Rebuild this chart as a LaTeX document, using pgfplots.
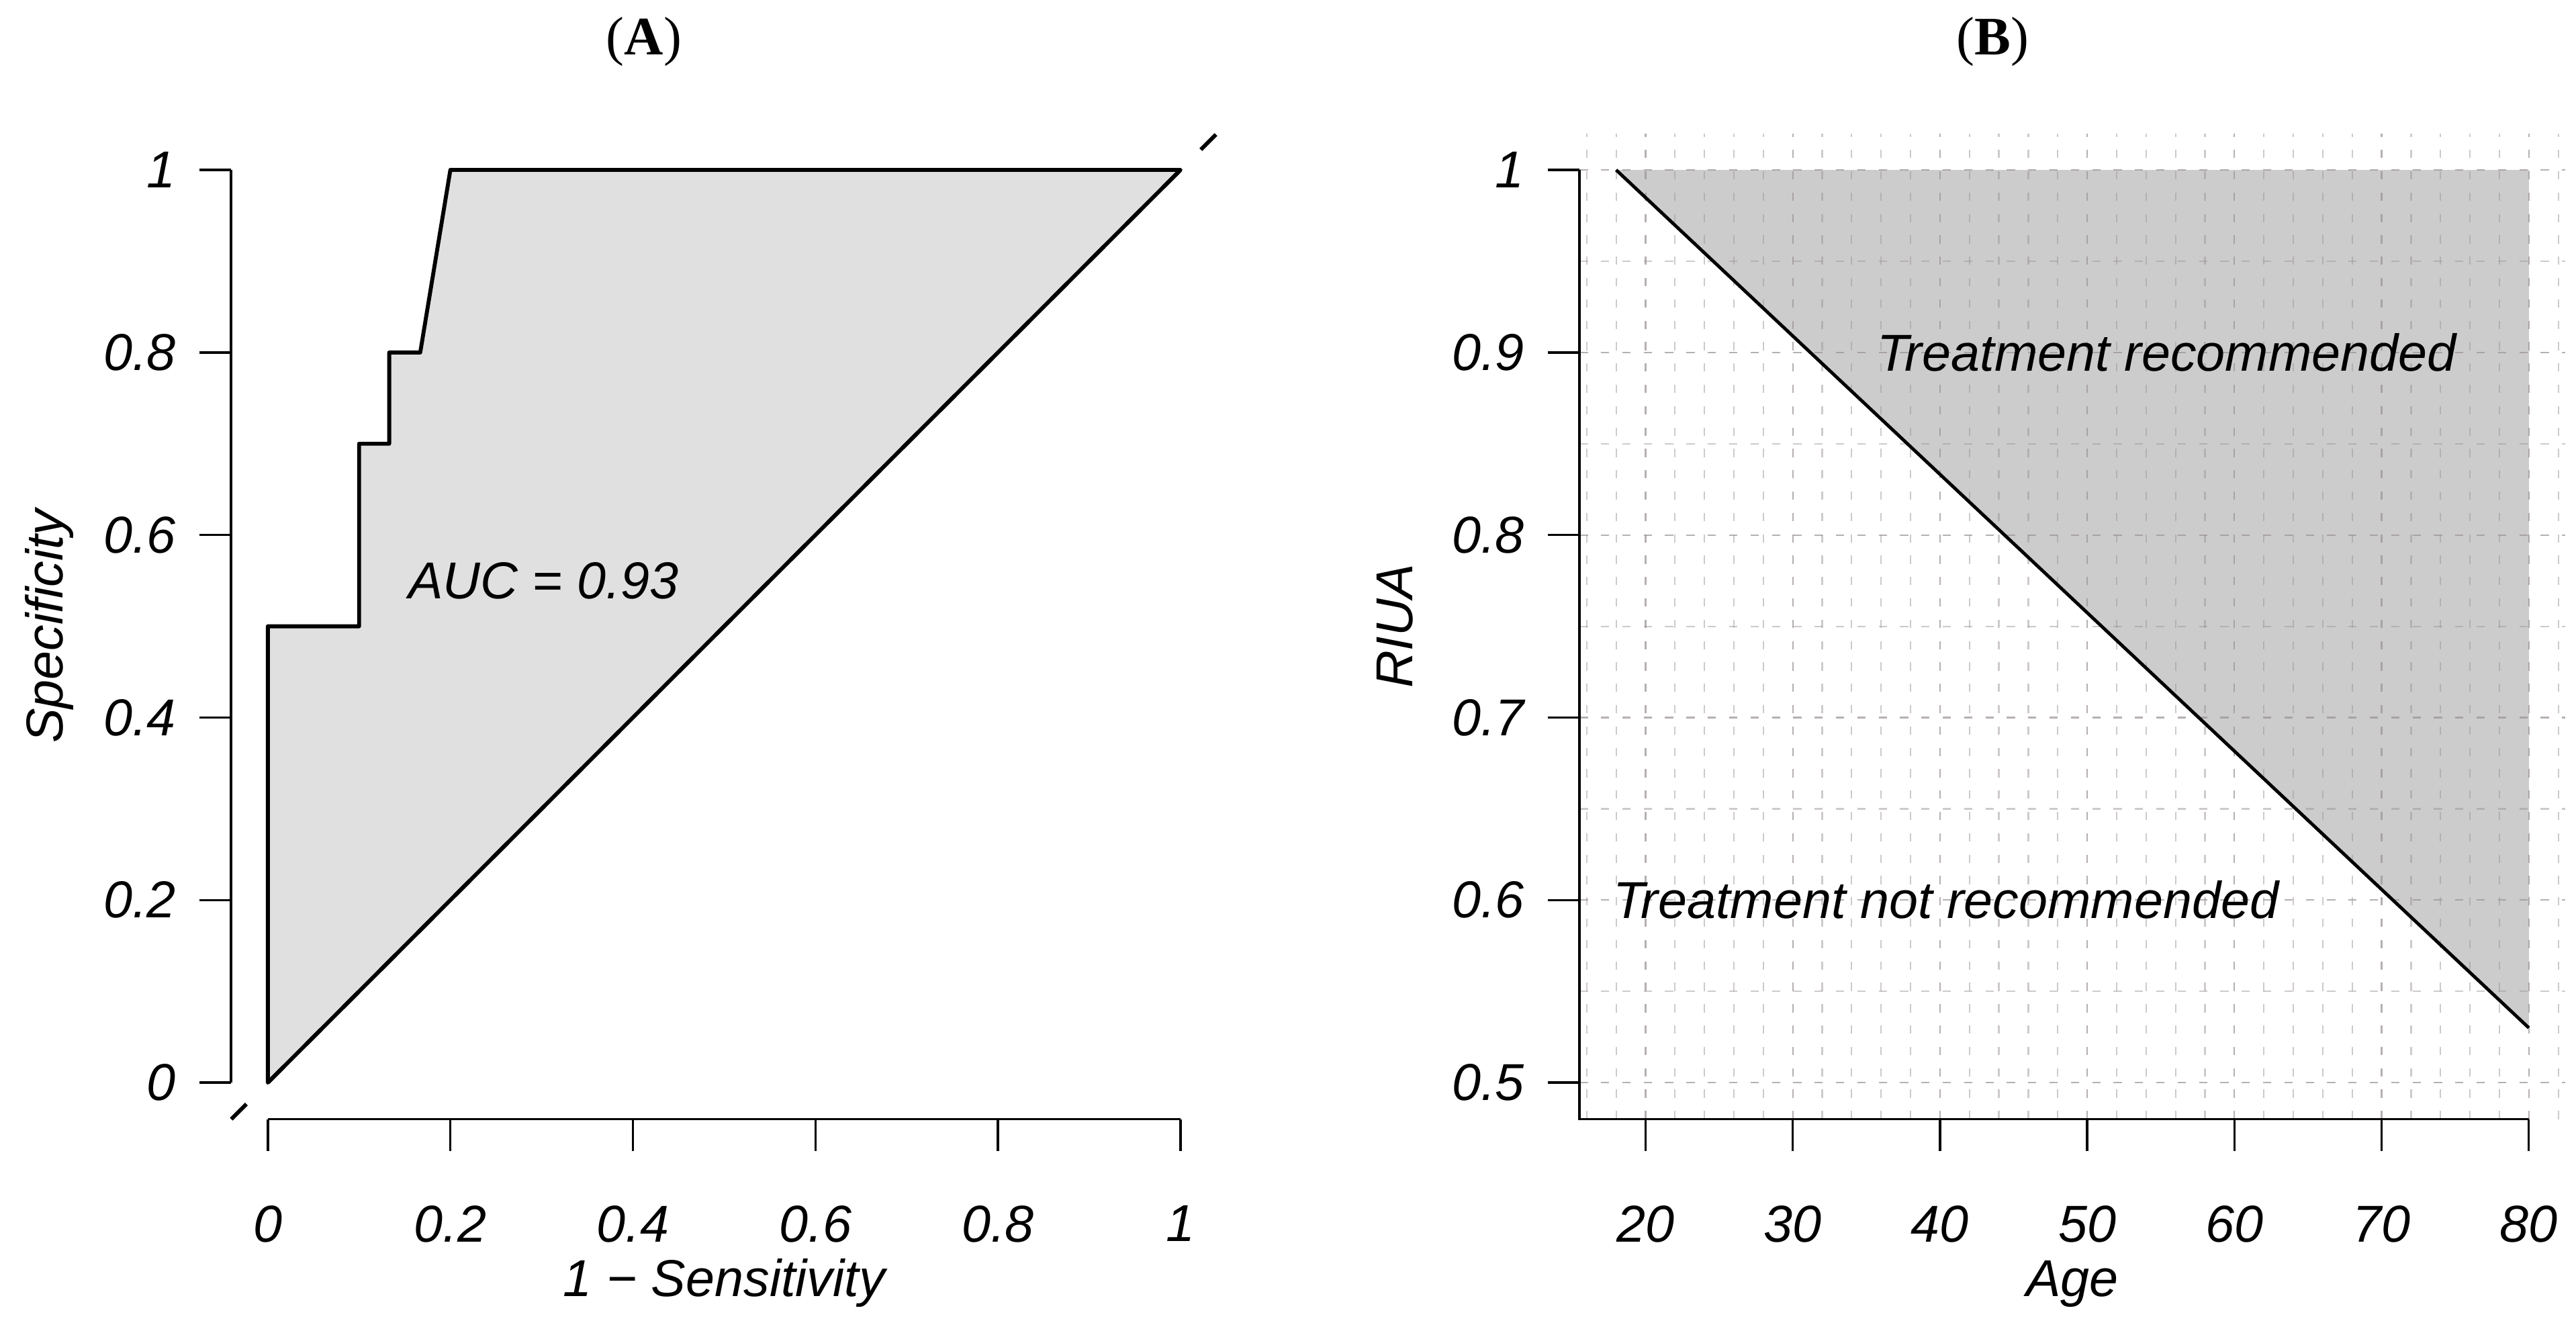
\documentclass[border=0pt]{standalone}
\usepackage{fontspec}
\setmainfont{Liberation Sans}
\newfontfamily\titlefont{Liberation Serif}
\usepackage{pgfplots}
\pgfplotsset{compat=1.18}
\definecolor{rocfill}{HTML}{E0E0E0}
\definecolor{recfill}{HTML}{CCCCCC}
\definecolor{gridc}{HTML}{9E9696}
\newcommand\lab{\fontsize{15.8}{19}\selectfont\itshape}

\pgfplotsset{rstyle/.style={
  scale only axis, width=300pt, height=300pt,
  clip=false,
  axis x line*=bottom, axis y line*=left,
  axis line style={draw=none},
  tick align=outside, major tick length=9.75pt, minor tick length=0pt,
  major tick style={black, line width=0.7pt},
  /pgf/number format/assume math mode=true,
  tick label style={font=\lab},
  xticklabel shift=13pt,
  yticklabel shift=3.6pt,
}}

\pgfplotstableread{
x y
0 0
0 0.5
0.1 0.5
0.1 0.7
0.133 0.7
0.133 0.8
0.167 0.8
0.2 1
1 1
}\roc

\begin{document}
\begin{tikzpicture}[font=\lab]
\begin{axis}[rstyle, at={(0,0)}, anchor=south west,
  xmin=-0.04, xmax=1.04, ymin=-0.04, ymax=1.04,
  xtick={0,0.2,0.4,0.6,0.8,1}, xticklabels={0,0.2,0.4,0.6,0.8,1},
  ytick={0,0.2,0.4,0.6,0.8,1}, yticklabels={0,0.2,0.4,0.6,0.8,1}]
  \addplot [fill=rocfill, draw=black, line width=1.2pt, line join=round] table {\roc} -- cycle;
  \addplot [black, line width=1.2pt, dash pattern=on 6.5pt off 9.55pt] coordinates {(-0.04,-0.04) (1.04,1.04)};
  \draw[line width=0.8pt] (axis cs:-0.04,0) -- (axis cs:-0.04,1);
  \draw[line width=0.8pt] (axis cs:0,-0.04) -- (axis cs:1,-0.04);
  \node at (axis cs:0.302,0.55) {AUC = 0.93};
  \node at ([yshift=-49.9pt]rel axis cs:0.5,0) {1 − Sensitivity};
  \node[rotate=90] at ([xshift=-55.4pt]rel axis cs:0,0.5) {Specificity};
\end{axis}

\begin{axis}[rstyle, at={(410.35pt,0)}, anchor=south west, set layers,
  xmin=15.52, xmax=82.48, ymin=0.48, ymax=1.02,
  xtick={20,30,40,50,60,70,80},
  minor xtick={16,18,...,82},
  ytick={0.5,0.6,0.7,0.8,0.9,1}, yticklabels={0.5,0.6,0.7,0.8,0.9,1},
  minor ytick={0.5,0.55,0.6,0.65,0.7,0.75,0.8,0.85,0.9,0.95,1},
  grid=both,
  major grid style={gridc, opacity=0.5, line width=0.45pt, dash pattern=on 2.5pt off 4pt},
  minor grid style={gridc, opacity=0.5, line width=0.45pt, dash pattern=on 2.5pt off 4pt}]
  \addplot [on layer=axis background, fill=recfill, draw=none] coordinates {(18,1) (80,0.53) (80,1)} -- cycle;
  \addplot [black, line width=1.0pt] coordinates {(18,1) (80,0.53)};
  \draw[line width=0.8pt] (axis cs:15.52,1) -- (axis cs:15.52,0.48) -- (axis cs:80,0.48);
  \node at (axis cs:55.4,0.9) {Treatment recommended};
  \node at (axis cs:40.4,0.6) {Treatment not recommended};
  \node at ([yshift=-50.2pt]rel axis cs:0.5,0) {Age};
  \node[rotate=90] at ([xshift=-56.3pt]rel axis cs:0,0.5) {RIUA};
\end{axis}

\node[font=\titlefont\fontsize{16.5}{19}\selectfont] at (125.6pt,328pt) {(\textbf{A})};
\node[font=\titlefont\fontsize{16.5}{19}\selectfont] at (536.1pt,328pt) {(\textbf{B})};

\pgfresetboundingbox
\useasboundingbox (-70.4pt,-64.4pt) rectangle (713.6pt,340.6pt);
\end{tikzpicture}
\end{document}
